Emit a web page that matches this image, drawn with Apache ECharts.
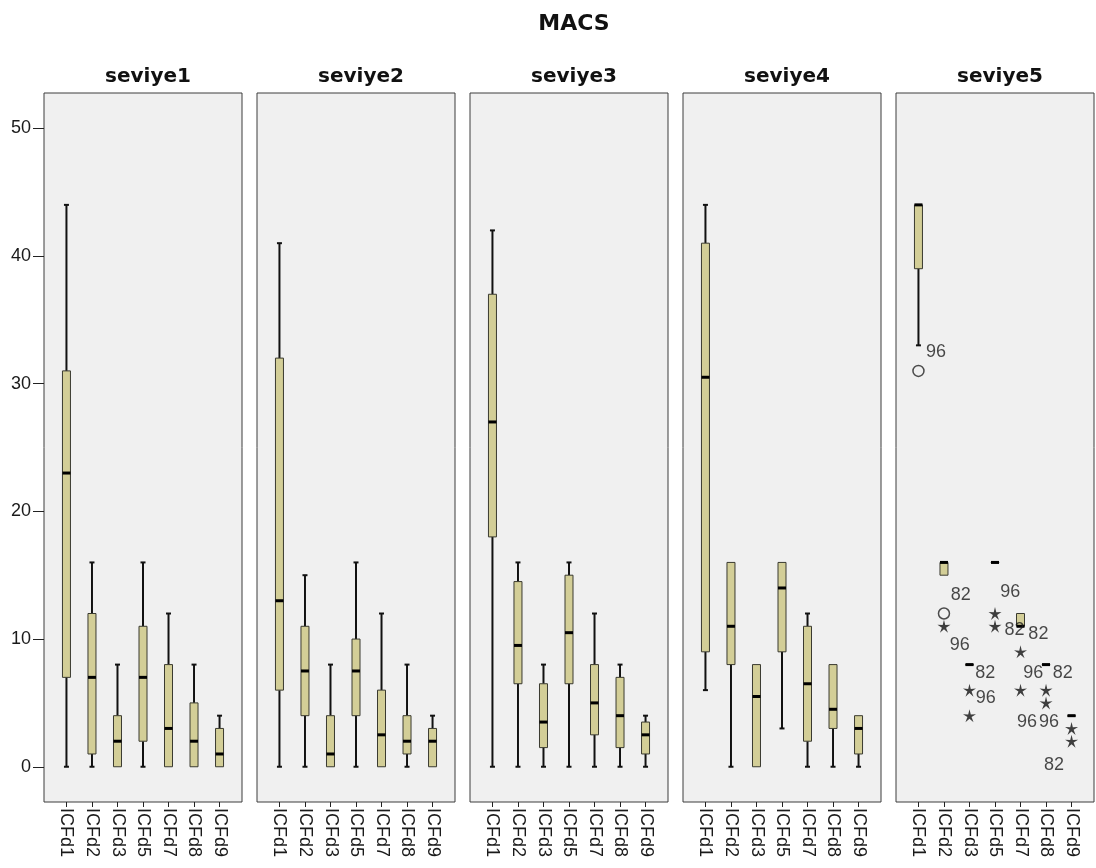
<!DOCTYPE html>
<html>
<head>
<meta charset="utf-8">
<script src="https://cdn.jsdelivr.net/npm/echarts@6/dist/echarts.min.js"></script>
<style>
html,body{margin:0;padding:0;background:#fff;}
#chart{width:1096px;height:868px;}
</style>
</head>
<body>
<div id="chart"></div>
<script>
// ---------- data ----------
const chartTitle = 'MACS';
const panelNames = ['seviye1', 'seviye2', 'seviye3', 'seviye4', 'seviye5'];
const categories = ['ICFd1', 'ICFd2', 'ICFd3', 'ICFd5', 'ICFd7', 'ICFd8', 'ICFd9'];
const yTicks = [0, 10, 20, 30, 40, 50];

// box statistics per category: [lowWhisker, Q1, median, Q3, highWhisker]
const seviye1 = [[0, 7, 23, 31, 44], [0, 1, 7, 12, 16], [0, 0, 2, 4, 8], [0, 2, 7, 11, 16], [0, 0, 3, 8, 12], [0, 0, 2, 5, 8], [0, 0, 1, 3, 4]];
const seviye2 = [[0, 6, 13, 32, 41], [0, 4, 7.5, 11, 15], [0, 0, 1, 4, 8], [0, 4, 7.5, 10, 16], [0, 0, 2.5, 6, 12], [0, 1, 2, 4, 8], [0, 0, 2, 3, 4]];
const seviye3 = [[0, 18, 27, 37, 42], [0, 6.5, 9.5, 14.5, 16], [0, 1.5, 3.5, 6.5, 8], [0, 6.5, 10.5, 15, 16], [0, 2.5, 5, 8, 12], [0, 1.5, 4, 7, 8], [0, 1, 2.5, 3.5, 4]];
const seviye4 = [[6, 9, 30.5, 41, 44], [0, 8, 11, 16, 16], [0, 0, 5.5, 8, 8], [3, 9, 14, 16, 16], [0, 2, 6.5, 11, 12], [0, 3, 4.5, 8, 8], [0, 1, 3, 4, 4]];
const seviye5 = [[33, 39, 44, 44, 44], [15, 15, 16, 16, 16], [8, 8, 8, 8, 8], [16, 16, 16, 16, 16], [11, 11, 11, 12, 12], [8, 8, 8, 8, 8], [4, 4, 4, 4, 4]];

// outliers in seviye5: [categoryIndex, value]
const seviye5Circles = [[0, 31], [1, 12]];
const seviye5Stars = [[1, 11], [2, 6], [2, 4], [3, 12], [3, 11], [4, 9], [4, 6], [5, 6], [5, 5], [6, 3], [6, 2]];
// case-number labels in seviye5: [x (category units), value, text]
const seviye5Labels = [
  [0.69, 32.5, '96'], [1.66, 13.45, '82'], [1.62, 9.54, '96'], [2.62, 7.35, '82'], [2.64, 5.4, '96'],
  [3.6, 13.7, '96'], [3.76, 10.7, '82'], [4.7, 10.38, '82'], [4.5, 7.35, '96'], [4.25, 3.53, '96'],
  [5.66, 7.35, '82'], [5.12, 3.53, '96'], [5.31, 0.14, '82']
];

const panelData = [seviye1, seviye2, seviye3, seviye4, seviye5];

// ---------- layout / style ----------
const panelLeft = [44, 257, 470, 683, 896];
const panelWidth = 198;
const panelTop = 93;
const panelHeight = 709;
const xMin = -0.88, xMax = 6.88;
const yMin = -2.76, yMax = 52.76;
const boxFill = '#d3ce97';
const boxBorder = '#3a3a30';
const BOX_W = 8;

const chart = echarts.init(document.getElementById('chart'), null, {renderer: 'canvas'});

function renderBox(params, api) {
  const x = api.value(0);
  const lo = api.value(1), q1 = api.value(2), med = api.value(3), q3 = api.value(4), hi = api.value(5);
  const pLo = api.coord([x, lo]), pQ1 = api.coord([x, q1]), pMed = api.coord([x, med]);
  const pQ3 = api.coord([x, q3]), pHi = api.coord([x, hi]);
  const cx = pQ1[0];
  const children = [];
  const wStyle = {stroke: '#111', lineWidth: 2};
  if (lo < q1) {
    children.push({type: 'line', shape: {x1: cx, y1: pLo[1], x2: cx, y2: pQ1[1]}, style: wStyle});
    children.push({type: 'line', shape: {x1: cx - 2.5, y1: pLo[1], x2: cx + 2.5, y2: pLo[1]}, style: wStyle});
  }
  if (hi > q3) {
    children.push({type: 'line', shape: {x1: cx, y1: pHi[1], x2: cx, y2: pQ3[1]}, style: wStyle});
    children.push({type: 'line', shape: {x1: cx - 2.5, y1: pHi[1], x2: cx + 2.5, y2: pHi[1]}, style: wStyle});
  }
  children.push({
    type: 'rect',
    shape: {x: cx - BOX_W / 2, y: pQ3[1], width: BOX_W, height: Math.max(pQ1[1] - pQ3[1], 0.5)},
    style: {fill: boxFill, stroke: boxBorder, lineWidth: 1}
  });
  children.push({type: 'line', shape: {x1: cx - BOX_W / 2, y1: pMed[1], x2: cx + BOX_W / 2, y2: pMed[1]}, style: {stroke: '#000', lineWidth: 3}});
  return {type: 'group', children: children};
}

const grids = [], xAxes = [], yAxes = [], series = [], titles = [];

titles.push({
  text: chartTitle, left: (panelLeft[0] + panelLeft[4] + panelWidth) / 2, top: 8, textAlign: 'center',
  textStyle: {fontFamily: 'DejaVu Sans', fontWeight: 'bold', fontSize: 22, color: '#111'}
});

panelNames.forEach((name, p) => {
  grids.push({left: panelLeft[p], top: panelTop, width: panelWidth, height: panelHeight,
    show: true, backgroundColor: '#f0f0f0', borderColor: '#3c3c3c', borderWidth: 1});
  titles.push({
    text: name, left: panelLeft[p] + panelWidth / 2, top: 62, textAlign: 'center',
    textStyle: {fontFamily: 'DejaVu Sans', fontWeight: 'bold', fontSize: 20, color: '#111'}
  });
  xAxes.push({
    type: 'value', gridIndex: p, min: xMin, max: xMax, position: 'bottom',
    axisLine: {show: false, onZero: false}, splitLine: {show: false},
    axisTick: {show: true, length: 5, customValues: categories.map((c, i) => i), lineStyle: {color: '#222', width: 1}},
    axisLabel: {
      show: true, rotate: -90, margin: 6, customValues: categories.map((c, i) => i),
      formatter: v => categories[Math.round(v)] || '',
      fontFamily: 'Liberation Sans', fontSize: 18, color: '#1a1a1a'
    }
  });
  yAxes.push({
    type: 'value', gridIndex: p, min: yMin, max: yMax, position: 'left',
    axisLine: {show: false, onZero: false}, splitLine: {show: false},
    axisTick: {show: p === 0, length: 11, customValues: yTicks, lineStyle: {color: '#222', width: 1}},
    axisLabel: {show: p === 0, margin: 13, customValues: yTicks, fontFamily: 'Liberation Sans', fontSize: 18, color: '#1a1a1a'}
  });
  series.push({
    type: 'custom', xAxisIndex: p, yAxisIndex: p, renderItem: renderBox, silent: true,
    data: panelData[p].map((s, i) => [i].concat(s)),
    encode: {x: 0, y: [1, 2, 3, 4, 5]}
  });
});

// outliers (seviye5 panel)
const starPath = (function () {
  const pts = [];
  for (let k = 0; k < 10; k++) {
    const r = k % 2 === 0 ? 1 : 0.32;
    const a = -Math.PI / 2 + k * Math.PI / 5;
    pts.push((r * Math.cos(a)).toFixed(3) + ',' + (r * Math.sin(a)).toFixed(3));
  }
  return 'path://M' + pts.join(' L') + ' Z';
})();

series.push({
  type: 'scatter', xAxisIndex: 4, yAxisIndex: 4, silent: true,
  symbol: 'circle', symbolSize: 11,
  itemStyle: {color: 'rgba(0,0,0,0)', borderColor: '#222', borderWidth: 1.5},
  data: seviye5Circles
});
series.push({
  type: 'scatter', xAxisIndex: 4, yAxisIndex: 4, silent: true,
  symbol: starPath, symbolSize: 13,
  itemStyle: {color: '#111'},
  data: seviye5Stars
});
series.push({
  type: 'scatter', xAxisIndex: 4, yAxisIndex: 4, silent: true,
  symbolSize: 0,
  label: {show: true, position: 'inside', formatter: p => p.data[2], fontFamily: 'Liberation Sans', fontSize: 18, color: '#1a1a1a'},
  data: seviye5Labels
});

chart.setOption({
  animation: false,
  backgroundColor: '#ffffff',
  title: titles,
  grid: grids,
  xAxis: xAxes,
  yAxis: yAxes,
  series: series
});
</script>
</body>
</html>
